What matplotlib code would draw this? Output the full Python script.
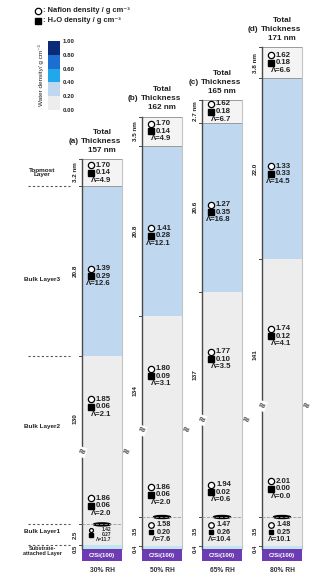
import matplotlib.pyplot as plt
from matplotlib.colors import ListedColormap, BoundaryNorm
from matplotlib.patches import Ellipse
from matplotlib.colorbar import ColorbarBase

plt.rcParams['font.family'] = ['Liberation Sans', 'DejaVu Sans']
plt.rcParams['font.weight'] = 'bold'
plt.rcParams['mathtext.default'] = 'regular'

# ---- data ----
panels = ['(a)', '(b)', '(c)', '(d)']
rh_labels = ['30% RH', '50% RH', '65% RH', '80% RH']
total_nm = [157, 162, 165, 171]

# layer thickness / nm (top -> bottom)
topmost_nm = [3.2, 3.5, 2.7, 3.8]
bulk3_nm = [20.8, 20.8, 20.6, 22.0]
bulk2_nm = [130, 134, 137, 141]
bulk1_nm = [2.5, 3.5, 3.5, 3.5]
attached_nm = [0.5, 0.4, 0.4, 0.4]

# Nafion density, H2O density, lambda
topmost_naf = [1.70, 1.70, 1.62, 1.62]
topmost_h2o = [0.14, 0.14, 0.18, 0.18]
topmost_lam = [4.9, 4.9, 6.7, 6.6]
bulk3_naf = [1.39, 1.41, 1.27, 1.33]
bulk3_h2o = [0.29, 0.28, 0.35, 0.33]
bulk3_lam = [12.6, 12.1, 16.8, 14.5]
bulk2_up_naf = [1.85, 1.80, 1.77, 1.74]
bulk2_up_h2o = [0.06, 0.09, 0.10, 0.12]
bulk2_up_lam = [2.1, 3.1, 3.5, 4.1]
bulk2_lo_naf = [1.86, 1.86, 1.94, 2.01]
bulk2_lo_h2o = [0.06, 0.06, 0.02, 0.00]
bulk2_lo_lam = [2.0, 2.0, 0.6, 0.0]
bulk1_naf = [1.42, 1.58, 1.47, 1.48]
bulk1_h2o = [0.27, 0.20, 0.26, 0.25]
bulk1_lam = [11.7, 7.6, 10.4, 10.1]

cbar_bounds = [0.0, 0.2, 0.4, 0.6, 0.8, 1.0]
cbar_colors = ['#ededed', '#bfd8ef', '#22a8ea', '#1c6fd0', '#0b2b78']

# ---- layout ----
PX_X = 60.0      # px per column step
PX_Y = 8.2       # px per nm
BREAK_NM = 109.5 # nm cut out of bulk layer 2
W = 40 / PX_X
SUB_H = 12 / PX_Y


def dx(px):
    return px / PX_X


def dy(px):
    return px / PX_Y


cmap = ListedColormap(cbar_colors)
norm = BoundaryNorm(cbar_bounds, cmap.N)

fig = plt.figure(figsize=(3.29, 5.78), dpi=100)
ax = fig.add_axes([0, 0, 1, 1])
ax.set_xlim(-82 / PX_X, 247 / PX_X)
ax.set_ylim(-29 / PX_Y, 549 / PX_Y)
ax.axis('off')

TXT = '#222222'


def add_group(x, yc, naf, h2o, lam, fs=5.6, step=0.92, ms=4.5):
    xm = x + dx(9)
    xr = x + dx(29)
    ax.plot(xm, yc + step, 'o', mfc='white', mec='black', ms=ms, mew=0.9)
    ax.plot(xm, yc, 's', color='black', ms=ms * 0.85)
    ax.text(xr, yc + step, f'{naf:.2f}', ha='right', va='center', fontsize=fs, color=TXT)
    ax.text(xr, yc, f'{h2o:.2f}', ha='right', va='center', fontsize=fs, color=TXT)
    ax.text(xr, yc - step, f'\u039b={lam:.1f}', ha='right', va='center', fontsize=fs, color=TXT)


bounds_a = None
for i in range(4):
    x = i
    heights = [attached_nm[i], bulk1_nm[i], bulk2_nm[i] - BREAK_NM, bulk3_nm[i], topmost_nm[i]]
    colors = ['#bfe6f2', '#ececec', cmap(norm(bulk2_up_h2o[i])),
              cmap(norm(bulk3_h2o[i])), '#f4f4f4']
    bottoms = [0]
    for h in heights[:-1]:
        bottoms.append(bottoms[-1] + h)
    top = bottoms[-1] + heights[-1]
    if i == 0:
        bounds_a = (bottoms, heights)

    for b, h, c in zip(bottoms, heights, colors):
        ax.bar(x, h, bottom=b, width=W, align='edge', color=c, linewidth=0)
    # topmost box outline
    ax.bar(x, heights[4], bottom=bottoms[4], width=W, align='edge',
           facecolor='none', edgecolor='#9a9a9a', linewidth=0.7)
    ax.plot([x + W, x + W], [0, top], color='#c4c4c4', lw=0.8)

    # substrate
    ax.bar(x, SUB_H, bottom=-SUB_H, width=W, align='edge', color='#6d3bb2', linewidth=0)
    ax.text(x + W / 2, -SUB_H / 2, 'C/Si(100)', ha='center', va='center',
            fontsize=4.4, color='white')
    ax.text(x + W / 2, -SUB_H - dy(10), rh_labels[i], ha='center', va='center',
            fontsize=4.8, color='#333333')

    # left axis line and ticks
    ax.plot([x, x], [0, top], color='#4a4a4a', lw=1.0)
    for yb in bottoms[1:] + [top]:
        ax.plot([x - dx(3), x], [yb, yb], color='#4a4a4a', lw=0.7)

    # boundary between bulk layer 2 and bulk layer 1
    yb1 = bottoms[2]
    ax.plot([x, x + W], [yb1, yb1], color='#9a9a9a', lw=0.6, ls='--')
    ax.add_patch(Ellipse((x + W / 2, yb1), dx(17), dy(3.0), color='black'))

    # axis break
    ybrk = bottoms[2] + 0.43 * heights[2]
    ax.text(x, ybrk, '\u2248', ha='center', va='center', fontsize=7, color='#444444',
            rotation=-20, family='DejaVu Sans',
            bbox=dict(facecolor='white', edgecolor='none', pad=0.1))
    ax.text(x + W + dx(4), ybrk, '\u2248', ha='center', va='center', fontsize=7,
            color='#444444', rotation=-20, family='DejaVu Sans')

    # thickness labels
    lx = x - dx(7)
    ax.text(lx, bottoms[4] + heights[4] / 2, f'{topmost_nm[i]:.1f} nm', rotation=90,
            ha='center', va='center', fontsize=4.5, color=TXT)
    ax.text(lx, bottoms[3] + heights[3] * 0.5, f'{bulk3_nm[i]:.1f}', rotation=90,
            ha='center', va='center', fontsize=4.6, color=TXT)
    ax.text(lx, bottoms[2] + heights[2] * 0.63, f'{bulk2_nm[i]}', rotation=90,
            ha='center', va='center', fontsize=4.6, color=TXT)
    ax.text(lx, bottoms[1] + heights[1] / 2, f'{bulk1_nm[i]:.1f}', rotation=90,
            ha='center', va='center', fontsize=4.3, color=TXT)
    ax.text(lx, 0, f'{attached_nm[i]:.1f}', rotation=90,
            ha='center', va='center', fontsize=4.3, color=TXT)

    # density annotations
    add_group(x, bottoms[4] + heights[4] / 2, topmost_naf[i], topmost_h2o[i], topmost_lam[i])
    add_group(x, bottoms[3] + heights[3] * 0.47, bulk3_naf[i], bulk3_h2o[i], bulk3_lam[i])
    add_group(x, bottoms[2] + heights[2] * 0.70, bulk2_up_naf[i], bulk2_up_h2o[i], bulk2_up_lam[i])
    add_group(x, bottoms[2] + heights[2] * 0.11, bulk2_lo_naf[i], bulk2_lo_h2o[i], bulk2_lo_lam[i])
    if bulk1_nm[i] < 3:
        add_group(x, bottoms[1] + heights[1] / 2, bulk1_naf[i], bulk1_h2o[i], bulk1_lam[i],
                  fs=3.5, step=0.6, ms=2.8)
    else:
        add_group(x, bottoms[1] + heights[1] / 2 - 0.1, bulk1_naf[i], bulk1_h2o[i],
                  bulk1_lam[i], fs=5.2, step=0.92, ms=4.0)

    # header
    cx = x + W / 2
    ax.text(cx, top + dy(27), 'Total', ha='center', va='center', fontsize=5.9, color=TXT)
    ax.text(cx - dx(1), top + dy(18), 'Thickness', ha='center', va='center',
            fontsize=5.9, color=TXT)
    ax.text(cx - dx(23.5), top + dy(18), panels[i], ha='right', va='center',
            fontsize=5.9, color=TXT)
    ax.text(cx, top + dy(9), f'{total_nm[i]} nm', ha='center', va='center',
            fontsize=5.9, color=TXT)

# layer names on the left, aligned with column (a)
bottoms, heights = bounds_a
lab_x = dx(42 - 82)
ax.text(lab_x, bottoms[4] + heights[4] / 2, 'Topmost\nLayer', ha='center', va='center',
        fontsize=4.6, color=TXT, linespacing=0.9)
ax.text(lab_x, bottoms[3] + heights[3] * 0.45, 'Bulk Layer3', ha='center', va='center',
        fontsize=4.6, color=TXT)
ax.text(lab_x, bottoms[2] + heights[2] * 0.58, 'Bulk Layer2', ha='center', va='center',
        fontsize=4.6, color=TXT)
ax.text(lab_x, bottoms[1] + heights[1] / 2 + 0.4, 'Bulk Layer1', ha='center', va='center',
        fontsize=4.6, color=TXT)
ax.text(lab_x, -0.25, 'Substrate-\nattached Layer', ha='center', va='center',
        fontsize=4.0, color=TXT, linespacing=0.85)
for yb in [bottoms[4], bottoms[3], bottoms[2], bottoms[1]]:
    ax.plot([dx(28 - 82), dx(70 - 82)], [yb, yb], color='#555555', lw=0.8, ls=(0, (2, 2)))

# legend
leg_x = dx(38 - 82)
leg_y1 = (549 - 11) / PX_Y
leg_y2 = (549 - 21) / PX_Y
ax.plot(leg_x, leg_y1, 'o', mfc='white', mec='black', ms=4.6, mew=0.9)
ax.plot(leg_x, leg_y2, 's', color='black', ms=3.9)
ax.text(leg_x + dx(5), leg_y1, ': Nafion density / g cm\u207b\u00b3',
        ha='left', va='center', fontsize=5.4, color=TXT)
ax.text(leg_x + dx(5), leg_y2, ': H\u2082O density / g cm\u207b\u00b3',
        ha='left', va='center', fontsize=5.4, color=TXT)

# colour bar
cax = fig.add_axes([48 / 329, 1 - 110 / 578, 12 / 329, 69 / 578])
cb = ColorbarBase(cax, cmap=cmap, norm=norm, boundaries=cbar_bounds, ticks=cbar_bounds,
                  format='%.2f')
cb.outline.set_visible(False)
cb.ax.tick_params(length=0, labelsize=4.4, pad=2, colors=TXT)
cb.set_label('Water density/ g cm\u207b\u00b3', fontsize=4.6, color=TXT, labelpad=3)
cb.ax.yaxis.set_label_position('left')

fig.savefig('out.png', dpi=100)
